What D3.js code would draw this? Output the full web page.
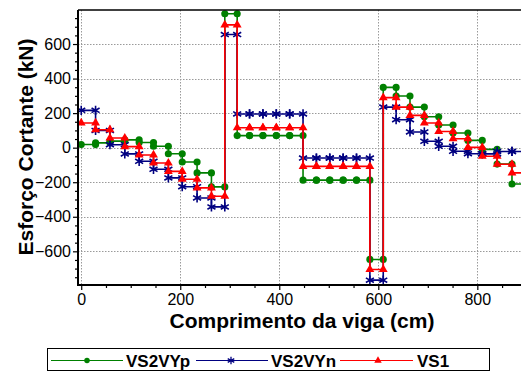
<!DOCTYPE html>
<html>
<head>
<meta charset="utf-8">
<script src="https://cdn.jsdelivr.net/npm/d3@7"></script>
<style>
  html, body { margin: 0; padding: 0; background: #fff; }
  svg { display: block; }
  text { font-family: "Liberation Sans", Arial, sans-serif; }
</style>
</head>
<body>
<script>
// ---- data ----
const stepBreaks = [0, 29, 58, 88, 117, 146, 176, 204, 234, 263, 290, 315, 340, 367, 394, 421, 448,
  475, 502, 529, 556, 583, 610, 636, 664, 693, 722, 751, 781, 810, 840, 870, 900];
const seriesNames = ["VS2VYp", "VS2VYn", "VS1"];
const vs2vyp = [18, 28, 38, 45, 30, 8, -35, -83, -146, -227, 775, 70, 70, 70, 70, 70,
  -188, -188, -188, -188, -188, -647, 349, 299, 235, 179, 131, 85, 42, -10, -95, -210];
const vs2vyn = [216, 100, 17, -36, -79, -125, -175, -226, -291, -343, 655, 195, 195, 195, 195, 195,
  -60, -60, -60, -60, -60, -767, 235, 162, 91, 37, 8, -21, -35, -36, -22, -22];
const vs1 = [143, 104, 56, 6, -42, -89, -137, -183, -233, -281, 711, 115, 115, 115, 115, 115,
  -108, -108, -108, -108, -108, -705, 290, 235, 187, 143, 94, 52, 2, -50, -96, -146];
const xTickValues = [0, 200, 400, 600, 800];
const yTickValues = [-600, -400, -200, 0, 200, 400, 600];
const xTitle = "Comprimento da viga (cm)";
const yTitle = "Esforço Cortante (kN)";

// ---- layout ----
const W = 521, H = 372;
const pLeft = 78, pRight = 525, pTop = 10, pBottom = 285;

const x = d3.scaleLinear().domain([-6.5, 896.3]).range([pLeft, pRight]);
const y = d3.scaleLinear().domain([-795, 797]).range([pBottom, pTop]);

const svg = d3.select("body").append("svg").attr("width", W).attr("height", H);
svg.append("rect").attr("width", W).attr("height", H).attr("fill", "#fff");

// gridlines
const grid = svg.append("g").attr("stroke", "#9a9a9a").attr("stroke-width", 1).attr("stroke-dasharray", "1.5,1.5");
grid.selectAll("line.gx").data(xTickValues).join("line").attr("class", "gx")
  .attr("x1", d => Math.round(x(d)) + 0.5).attr("x2", d => Math.round(x(d)) + 0.5)
  .attr("y1", pTop).attr("y2", pBottom);
grid.selectAll("line.gy").data(yTickValues).join("line").attr("class", "gy")
  .attr("y1", d => Math.round(y(d)) + 0.5).attr("y2", d => Math.round(y(d)) + 0.5)
  .attr("x1", pLeft).attr("x2", pRight);

// series
function stepPoints(vals) {
  const pts = [];
  vals.forEach((v, i) => {
    pts.push([stepBreaks[i], v]);
    pts.push([stepBreaks[i + 1], v]);
  });
  return pts;
}
const colors = ["#008000", "#000080", "#ff0000"];
const symbols = [d3.symbol(d3.symbolCircle, 40), d3.symbol(d3.symbolAsterisk, 60), d3.symbol(d3.symbolTriangle, 34)];
const seriesVals = [vs2vyp, vs2vyn, vs1];

const line = d3.line().x(d => x(d[0])).y(d => y(d[1]));
const plot = svg.append("g");
seriesVals.forEach((vals, k) => {
  const pts = stepPoints(vals);
  const g = plot.append("g");
  g.append("path").attr("d", line(pts)).attr("fill", "none")
    .attr("stroke", colors[k]).attr("stroke-width", 1.6);
  g.selectAll("path.m").data(pts).join("path").attr("class", "m")
    .attr("transform", d => `translate(${x(d[0])},${y(d[1])})`)
    .attr("d", symbols[k]())
    .attr("fill", k === 1 ? "none" : colors[k])
    .attr("stroke", colors[k])
    .attr("stroke-width", k === 1 ? 1.6 : 0);
});

// axes
const minorX = d3.range(50, 900, 50).filter(v => !xTickValues.includes(v));
const minorY = d3.range(-750, 800, 50).filter(v => !yTickValues.includes(v));

const xAxisG = svg.append("g").attr("transform", `translate(0,${pBottom})`)
  .call(d3.axisBottom(x).tickValues(xTickValues).tickSize(5).tickPadding(4).tickFormat(d3.format("d")));
const xMinorG = svg.append("g").attr("transform", `translate(0,${pBottom})`)
  .call(d3.axisBottom(x).tickValues(minorX).tickSize(3).tickFormat(""));
const yAxisG = svg.append("g").attr("transform", `translate(${pLeft},0)`)
  .call(d3.axisLeft(y).tickValues(yTickValues).tickSize(5).tickPadding(2).tickFormat(d3.format("d")));
const yMinorG = svg.append("g").attr("transform", `translate(${pLeft},0)`)
  .call(d3.axisLeft(y).tickValues(minorY).tickSize(3).tickFormat(""));

[xAxisG, yAxisG].forEach(g => {
  g.select(".domain").remove();
  g.selectAll("text").attr("font-size", 16).attr("fill", "#000")
    .style("font-family", '"Liberation Sans", Arial, sans-serif');
  g.selectAll("line").attr("stroke", "#000").attr("stroke-width", 1.2);
});
[xMinorG, yMinorG].forEach(g => {
  g.select(".domain").remove();
  g.selectAll("line").attr("stroke", "#000").attr("stroke-width", 1.2);
});
xAxisG.selectAll("text").attr("dy", "0.71em");

// frame
svg.append("line").attr("x1", pLeft).attr("x2", W).attr("y1", pBottom).attr("y2", pBottom)
  .attr("stroke", "#000").attr("stroke-width", 2);
svg.append("line").attr("x1", pLeft).attr("x2", pLeft).attr("y1", pTop).attr("y2", pBottom + 1)
  .attr("stroke", "#000").attr("stroke-width", 2);
svg.append("line").attr("x1", pLeft).attr("x2", W).attr("y1", pTop).attr("y2", pTop)
  .attr("stroke", "#000").attr("stroke-width", 1.6);

// titles
svg.append("text").attr("x", 302).attr("y", 328).attr("text-anchor", "middle")
  .attr("font-size", 21).attr("font-weight", "bold").text(xTitle);
svg.append("text").attr("transform", `translate(33,147) rotate(-90)`).attr("text-anchor", "middle")
  .attr("font-size", 21).attr("font-weight", "bold").text(yTitle);

// legend
const leg = svg.append("g");
leg.append("rect").attr("x", 47.5).attr("y", 348.5).attr("width", 442).attr("height", 22)
  .attr("fill", "#fff").attr("stroke", "#000").attr("stroke-width", 1);
const legItems = [
  { x1: 51, x2: 123, mx: 87, tx: 126 },
  { x1: 196, x2: 268, mx: 231, tx: 271 },
  { x1: 340, x2: 413, mx: 378, tx: 417 }
];
const legSymbols = [d3.symbol(d3.symbolCircle, 24), d3.symbol(d3.symbolAsterisk, 40), d3.symbol(d3.symbolTriangle, 24)];
const ly = 360.5;
seriesNames.forEach((name, k) => {
  const it = legItems[k];
  leg.append("line").attr("x1", it.x1).attr("x2", it.x2).attr("y1", ly).attr("y2", ly)
    .attr("stroke", colors[k]).attr("stroke-width", 1.2);
  leg.append("path").attr("transform", `translate(${it.mx},${ly})`).attr("d", legSymbols[k]())
    .attr("fill", k === 1 ? "none" : colors[k]).attr("stroke", colors[k]).attr("stroke-width", k === 1 ? 1.3 : 0);
  leg.append("text").attr("x", it.tx).attr("y", ly + 6).attr("font-size", 17).attr("font-weight", "bold")
    .attr("fill", "#000").text(name);
});
</script>
</body>
</html>
